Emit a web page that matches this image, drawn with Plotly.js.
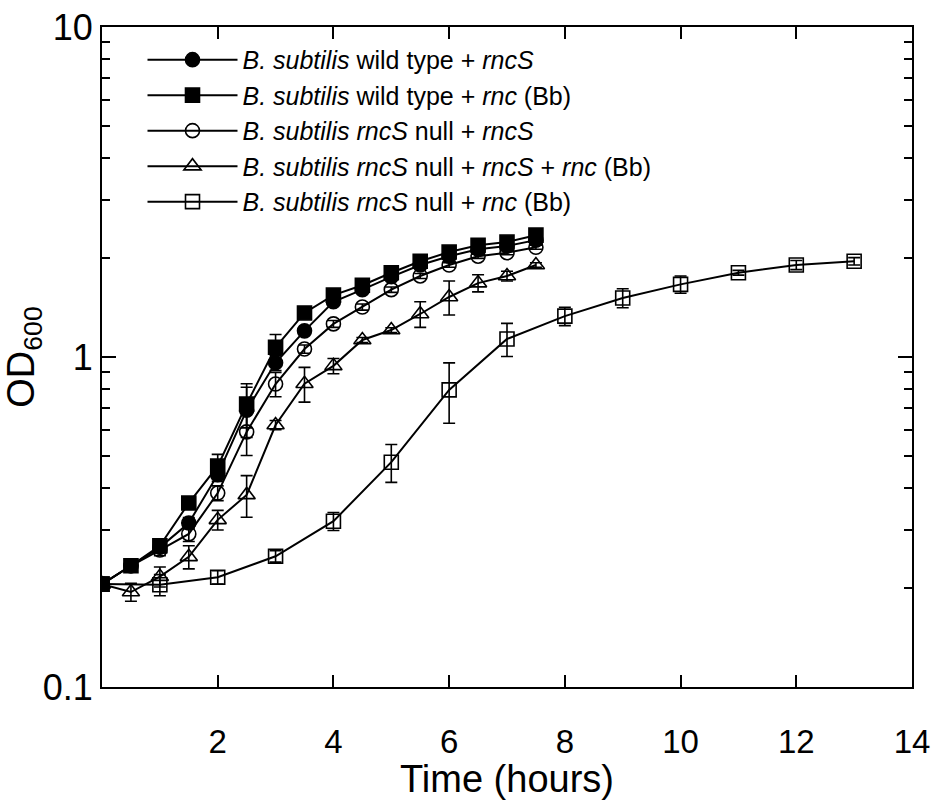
<!DOCTYPE html>
<html>
<head>
<meta charset="utf-8">
<script src="https://cdn.plot.ly/plotly-3.0.1.min.js"></script>
<style>html,body{margin:0;padding:0;background:#fff;}#chart{width:937px;height:800px;}</style>
</head>
<body>
<div id="chart"></div>
<script>
// Time points (hours)
const tFast = [0, 0.5, 1, 1.5, 2, 2.5, 3, 3.5, 4, 4.5, 5, 5.5, 6, 6.5, 7, 7.5];
const tSlow = [0, 1, 2, 3, 4, 5, 6, 7, 8, 9, 10, 11, 12, 13];

// OD600 values
const wtRncS      = [0.205, 0.233, 0.265, 0.314, 0.44, 0.69, 0.96, 1.2, 1.47, 1.6, 1.75, 1.9, 2.02, 2.12, 2.17, 2.26];
const wtRncBb     = [0.205, 0.233, 0.268, 0.361, 0.467, 0.72, 1.07, 1.36, 1.54, 1.65, 1.8, 1.95, 2.08, 2.18, 2.23, 2.34];
const nullRncS    = [0.205, 0.233, 0.26, 0.291, 0.387, 0.593, 0.828, 1.057, 1.26, 1.417, 1.6, 1.76, 1.9, 2.02, 2.07, 2.15];
const nullBoth    = [0.205, 0.194, 0.216, 0.248, 0.321, 0.382, 0.622, 0.83, 0.94, 1.126, 1.207, 1.35, 1.52, 1.675, 1.76, 1.9];
const nullRncBb   = [0.205, 0.204, 0.215, 0.249, 0.318, 0.48, 0.795, 1.134, 1.33, 1.51, 1.66, 1.8, 1.9, 1.95];

// Error bars (SD)
const wtRncSErr    = [0.005, 0.008, 0.01, 0.012, 0.02, 0.12, 0.05, 0.03, 0.03, 0.03, 0.03, 0.03, 0.03, 0.03, 0.03, 0.03];
const wtRncBbErr   = [0.005, 0.008, 0.01, 0.015, 0.04, 0.11, 0.1, 0.03, 0.03, 0.03, 0.03, 0.03, 0.03, 0.03, 0.03, 0.03];
const nullRncSErr  = [0.005, 0.008, 0.01, 0.015, 0.02, 0.09, 0.07, 0.03, 0.03, 0.03, 0.03, 0.03, 0.03, 0.03, 0.03, 0.03];
const nullBothErr  = [0.005, 0.012, 0.015, 0.02, 0.022, 0.055, 0.02, 0.1, 0.05, 0.02, 0.02, 0.12, 0.18, 0.1, 0.06, 0.03];
const nullRncBbErr = [0.005, 0.015, 0.01, 0.01, 0.02, 0.063, 0.165, 0.13, 0.085, 0.1, 0.1, 0.03, 0.06, 0.05];

// Labels
const seriesNames = [
  '<i>B. subtilis</i> wild type + <i>rncS</i>',
  '<i>B. subtilis</i> wild type + <i>rnc</i> (Bb)',
  '<i>B. subtilis rncS</i> null + <i>rncS</i>',
  '<i>B. subtilis rncS</i> null + <i>rncS</i> + <i>rnc</i> (Bb)',
  '<i>B. subtilis rncS</i> null + <i>rnc</i> (Bb)'
];
const xTickVals = [2, 4, 6, 8, 10, 12, 14];
const yTickVals = [0.1, 1, 10];
const yTickText = ['0.1', '1', '10'];
const yMinorVals = [0.2, 0.3, 0.4, 0.5, 0.6, 0.7, 0.8, 0.9, 2, 3, 4, 5, 6, 7, 8, 9];

function mk(x, y, err, name, symbol, size) {
  return {
    x: x, y: y, name: name, type: 'scatter', mode: 'lines+markers',
    line: {color: '#000', width: 2},
    marker: {symbol: symbol, size: size, color: '#000', line: {color: '#000', width: 1.6}},
    error_y: {type: 'data', array: err, visible: true, color: '#000', thickness: 1.6, width: 6}
  };
}

const traces = [
  mk(tSlow, nullRncBb, nullRncBbErr, seriesNames[4], 'square-open', 14),
  mk(tFast, nullBoth, nullBothErr, seriesNames[3], 'triangle-up-open', 15),
  mk(tFast, nullRncS, nullRncSErr, seriesNames[2], 'circle-open', 14),
  mk(tFast, wtRncS, wtRncSErr, seriesNames[0], 'circle', 14),
  mk(tFast, wtRncBb, wtRncBbErr, seriesNames[1], 'square', 14)
];
// legend order as in the reference
const order = {};
seriesNames.forEach((n, i) => order[n] = i);
traces.forEach(t => t.legendrank = order[t.name] + 1);

const font = 'Liberation Sans, Arial, sans-serif';
const layout = {
  width: 937, height: 800,
  margin: {l: 102, r: 25, t: 27, b: 113},
  paper_bgcolor: '#fff', plot_bgcolor: '#fff',
  font: {family: font, color: '#000'},
  showlegend: true,
  legend: {
    x: 0.05, y: 0.985, xanchor: 'left', yanchor: 'top',
    bgcolor: 'rgba(0,0,0,0)', borderwidth: 0,
    font: {family: font, size: 25, color: '#000'},
    traceorder: 'normal', itemwidth: 90
  },
  xaxis: {
    range: [0, 14], tickmode: 'array', tickvals: xTickVals,
    ticks: 'inside', ticklen: 12, tickwidth: 2, tickcolor: '#000',
    showline: true, linewidth: 2, linecolor: '#000', mirror: 'ticks',
    showgrid: false, zeroline: false,
    tickfont: {family: font, size: 33},
    ticklabelstandoff: 24,
    title: {text: 'Time (hours)', font: {family: font, size: 38}}
  },
  yaxis: {
    type: 'log', range: [-1, 1], tickmode: 'array', tickvals: yTickVals, ticktext: yTickText,
    ticks: 'inside', ticklen: 14, tickwidth: 2, tickcolor: '#000',
    showline: true, linewidth: 2, linecolor: '#000', mirror: 'ticks',
    showgrid: false, zeroline: false,
    tickfont: {family: font, size: 36},
    minor: {tickmode: 'array', tickvals: yMinorVals, ticks: 'inside', ticklen: 8, tickwidth: 2, tickcolor: '#000', showgrid: false},
    title: {text: 'OD<sub>600</sub>', font: {family: font, size: 38}}
  }
};

Plotly.newPlot('chart', traces, layout, {displayModeBar: false, staticPlot: true});
</script>
</body>
</html>
